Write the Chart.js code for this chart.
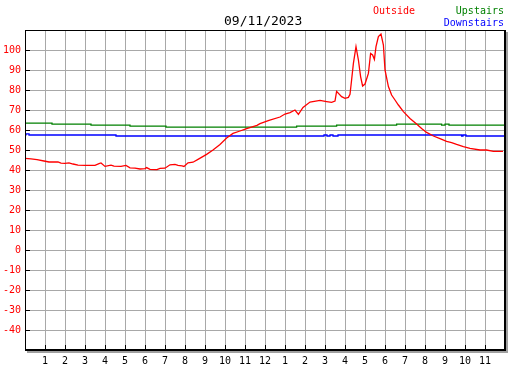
<!DOCTYPE html>
<html>
<head>
<meta charset="utf-8">
<script src="https://cdn.jsdelivr.net/npm/chart.js@4"></script>
<style>
  html, body { margin: 0; padding: 0; background: #fff; }
  #wrap { position: relative; width: 527px; height: 370px; }
  canvas { display: block; }
  .lbl { position: absolute; font-family: 'DejaVu Sans Mono', monospace; white-space: nowrap; line-height: 1; }
</style>
</head>
<body>
<div id="wrap">
  <canvas id="c" width="527" height="370"></canvas>
  <div class="lbl" id="title" style="left:224px; top:14px; font-size:13px; color:#000;">09/11/2023</div>
  <div class="lbl" style="left:373px; top:6px; font-size:10px; color:#ff0000;">Outside</div>
  <div class="lbl" style="right:23px; top:6px; font-size:10px; color:#008000;">Upstairs</div>
  <div class="lbl" style="right:23px; top:18px; font-size:10px; color:#0000ff;">Downstairs</div>
</div>
<script>
// ---- data (hours since midnight, degrees) ----
const outsideHours = [0,0.3,0.6,0.95,1.2,1.65,1.8,2.0,2.2,2.4,2.65,3.0,3.5,3.7,3.8,4.0,4.3,4.45,4.8,5.05,5.25,5.5,5.75,6.0,6.08,6.25,6.6,6.75,7.0,7.25,7.5,7.65,7.85,7.95,8.15,8.4,8.65,9.08,9.4,9.75,10.08,10.4,10.75,11.08,11.6,11.75,12.2,12.75,13.0,13.25,13.5,13.67,13.9,14.25,14.75,15.08,15.33,15.5,15.58,15.83,16.0,16.17,16.25,16.33,16.42,16.55,16.67,16.78,16.88,17.0,17.17,17.28,17.38,17.47,17.55,17.67,17.8,17.92,18.0,18.17,18.33,18.5,18.67,18.92,19.25,19.58,19.83,20.08,20.42,20.75,21.08,21.33,21.58,21.92,22.25,22.75,23.08,23.42,23.9];
const outsideTemps = [45.8,45.6,45.2,44.5,44.0,44.0,43.4,43.3,43.6,43.0,42.4,42.3,42.3,43.2,43.5,41.8,42.4,41.9,41.8,42.3,41.1,40.9,40.5,40.7,41.2,40.3,40.2,40.8,40.9,42.6,42.8,42.3,42.1,41.8,43.6,43.9,45.3,47.8,50.0,52.8,56.0,58.3,59.5,60.7,62.3,63.2,64.8,66.5,68.0,68.7,70.0,67.8,71.3,74.0,74.8,74.2,73.8,74.5,79.3,76.7,75.8,76.3,77.8,85.0,93.3,101.7,95.0,86.7,82.0,83.0,88.3,98.3,97.5,95.3,101.7,106.7,108.0,102.5,90.0,81.7,77.5,75.0,72.5,69.2,65.8,63.0,60.8,58.8,57.0,55.7,54.3,53.7,52.8,51.7,50.8,50.0,50.0,49.3,49.3];

const upstairsHours = [0,1.35,3.3,5.25,7.05,13.58,15.58,18.58,20.83,21.0,21.2,24];
const upstairsTemps = [63.4,62.9,62.4,61.9,61.4,61.9,62.4,62.9,62.4,62.9,62.4,62.4];

const downstairsHours = [0,0.05,0.2,4.55,14.95,15.1,15.25,15.4,15.65,21.83,21.9,22.05,24];
const downstairsTemps = [57.6,58.1,57.5,57.0,57.5,57.0,57.5,57.0,57.5,57.0,57.5,57.0,57.0];

const yTickValues = [-40,-30,-20,-10,0,10,20,30,40,50,60,70,80,90,100];
const hourLabels = ['','1','2','3','4','5','6','7','8','9','10','11','12','1','2','3','4','5','6','7','8','9','10','11',''];

const toPts = (xs, ys) => xs.map((x, i) => ({ x: x, y: ys[i] }));

const FONT = "'DejaVu Sans Mono', monospace";

const framePlugin = {
  id: 'frame',
  afterDraw(chart) {
    const ctx = chart.ctx;
    const a = chart.chartArea;
    const xs = chart.scales.x, ys = chart.scales.y;
    ctx.save();
    ctx.fillStyle = '#a0a0a0';
    ctx.fillRect(a.right + 1, a.top + 2, 2, a.bottom - a.top + 1);
    ctx.fillRect(a.left + 2, a.bottom + 1, a.right - a.left + 1, 2);
    ctx.fillStyle = '#000';
    ctx.fillRect(a.left, a.top, a.right - a.left + 1, 1);
    ctx.fillRect(a.left, a.top, 1, a.bottom - a.top + 1);
    ctx.fillRect(a.right - 1, a.top, 2, a.bottom - a.top + 1);
    ctx.fillRect(a.left, a.bottom - 1, a.right - a.left + 1, 2);
    yTickValues.forEach(v => {
      const py = Math.round(ys.getPixelForValue(v));
      ctx.fillRect(a.left, py, 5, 1);
    });
    for (let h = 1; h < 24; h++) {
      const px = Math.round(xs.getPixelForValue(h));
      ctx.fillRect(px, a.bottom - 5, 1, 5);
    }
    ctx.restore();
  }
};

new Chart(document.getElementById('c'), {
  type: 'line',
  data: {
    datasets: [
      { label: 'Outside', data: toPts(outsideHours, outsideTemps), borderColor: '#ff0000', borderWidth: 1.3, pointRadius: 0, tension: 0, fill: false },
      { label: 'Upstairs', data: toPts(upstairsHours, upstairsTemps), borderColor: '#008000', borderWidth: 1.3, pointRadius: 0, stepped: 'before', fill: false },
      { label: 'Downstairs', data: toPts(downstairsHours, downstairsTemps), borderColor: '#0000ff', borderWidth: 1.3, pointRadius: 0, stepped: 'before', fill: false }
    ]
  },
  options: {
    responsive: false,
    animation: false,
    layout: { padding: { left: 0, top: 30, right: 22, bottom: 0 } },
    plugins: { legend: { display: false }, title: { display: false }, tooltip: { enabled: false } },
    scales: {
      x: {
        type: 'linear', min: 0, max: 24,
        afterFit(s) { s.height = 20; },
        border: { display: false },
        grid: { color: '#a8a8a8', lineWidth: 1, drawTicks: false },
        ticks: {
          stepSize: 1, autoSkip: false, maxRotation: 0, padding: 5,
          color: '#000', font: { family: FONT, size: 10 },
          callback: v => hourLabels[v] !== undefined ? hourLabels[v] : ''
        }
      },
      y: {
        type: 'linear', min: -50, max: 110,
        afterFit(s) { s.width = 25; },
        border: { display: false },
        grid: { color: '#a8a8a8', lineWidth: 1, drawTicks: false },
        ticks: {
          stepSize: 10, padding: 4,
          color: '#ff0000', font: { family: FONT, size: 10 },
          callback: v => yTickValues.includes(v) ? String(v) : ''
        }
      }
    }
  },
  plugins: [framePlugin]
});
</script>
</body>
</html>
